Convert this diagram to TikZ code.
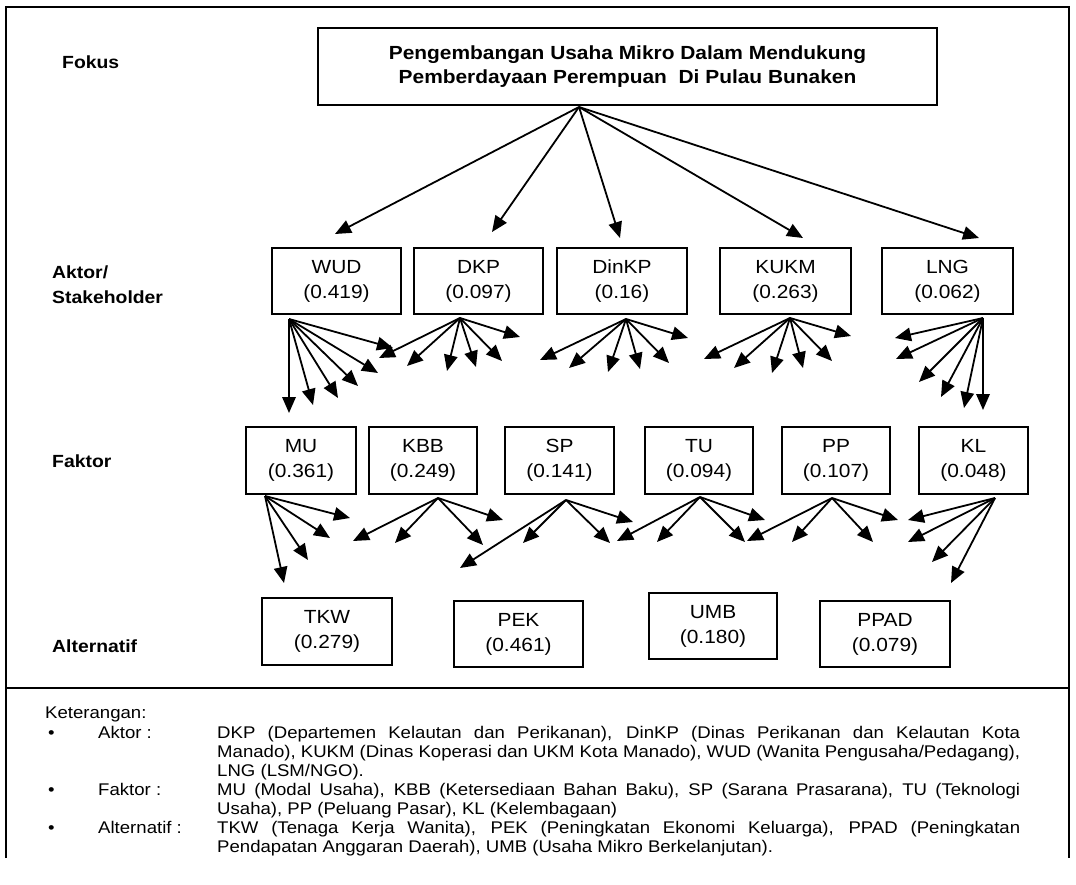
\documentclass[tikz,border=0pt]{standalone}
\usepackage{fontspec}
\setmainfont{Liberation Sans}[FakeStretch=1.1]
\usetikzlibrary{arrows.meta}
\newcommand\arrowfan[2]{%
  \foreach \x/\y [count=\i] in {#2} {%
    \coordinate (#1t\i) at (\x,\y);
    \draw[arr] (#1) -- (#1t\i);
  }}
\begin{document}
\begin{tikzpicture}[x=1pt,y=-1pt,
  arr/.style={line width=1.8pt,-{Triangle[length=16pt,width=13.5pt]}},
  box/.style={draw,line width=1.4pt,align=center,inner sep=0pt,
    font=\fontsize{19}{25}\selectfont},
  lev/.style={anchor=base west,inner sep=0pt,font=\fontsize{17.6}{20}\selectfont\bfseries},
  lg/.style={anchor=base west,inner sep=0pt,font=\fontsize{16.9}{19}\selectfont},
  frame/.style={line width=1.5pt}]
\useasboundingbox (0,0) rectangle (1076,885);

% frame
\draw[frame] (6,858) -- (6,7) -- (1069,7) -- (1069,858);
\draw[frame] (6,688) -- (1069,688);

% level labels
\node[lev] (lfokus) at (62,69) {Fokus};
\node[lev] (lakt1) at (52,279) {Aktor/};
\node[lev] (lakt2) at (52,303) {Stakeholder};
\node[lev] (lfak) at (52,467) {Faktor};
\node[lev] (lalt) at (52,652) {Alternatif};

% focus
\node[box,minimum width=619pt,minimum height=77pt,
  font=\fontsize{19}{24}\selectfont\bfseries] (F) at (627.5,66.4)
  {Pengembangan Usaha Mikro Dalam Mendukung\\Pemberdayaan Perempuan\ \ Di Pulau Bunaken};

% aktor
\node[box,minimum width=129pt,minimum height=66pt] (WUD) at (336.5,281) {WUD\\(0.419)};
\node[box,minimum width=129pt,minimum height=66pt] (DKP) at (478.5,281) {DKP\\(0.097)};
\node[box,minimum width=130pt,minimum height=66pt] (DinKP) at (622,281) {DinKP\\(0.16)};
\node[box,minimum width=131pt,minimum height=66pt] (KUKM) at (785.5,281) {KUKM\\(0.263)};
\node[box,minimum width=131pt,minimum height=66pt] (LNG) at (947.5,281) {LNG\\(0.062)};

% faktor
\node[box,minimum width=110pt,minimum height=67pt] (MU) at (301,460.5) {MU\\(0.361)};
\node[box,minimum width=108pt,minimum height=67pt] (KBB) at (423,460.5) {KBB\\(0.249)};
\node[box,minimum width=109pt,minimum height=67pt] (SP) at (559.5,460.5) {SP\\(0.141)};
\node[box,minimum width=108pt,minimum height=67pt] (TU) at (699,460.5) {TU\\(0.094)};
\node[box,minimum width=108pt,minimum height=67pt] (PP) at (836,460.5) {PP\\(0.107)};
\node[box,minimum width=109pt,minimum height=67pt] (KL) at (973.5,460.5) {KL\\(0.048)};

% alternatif
\node[box,minimum width=130pt,minimum height=67pt] (TKW) at (327,631.5) {TKW\\(0.279)};
\node[box,minimum width=129pt,minimum height=66pt] (PEK) at (518.5,634) {PEK\\(0.461)};
\node[box,minimum width=128pt,minimum height=66pt] (UMB) at (713,626) {UMB\\(0.180)};
\node[box,minimum width=130pt,minimum height=66pt] (PPAD) at (885,634) {PPAD\\(0.079)};

% arrow origins
\coordinate (fO) at (579,107);
\coordinate (wudO) at (289,319);
\coordinate (dkpO) at (460,318);
\coordinate (dinO) at (626,319);
\coordinate (kukmO) at (790,318);
\coordinate (lngO) at (983,318);
\coordinate (muO) at (265,496);
\coordinate (kbbO) at (438,498);
\coordinate (spO) at (566,500);
\coordinate (tuO) at (700,497);
\coordinate (ppO) at (832,498);
\coordinate (klO) at (995,498);

% arrows
\arrowfan{fO}{335/234, 492/232, 620/238, 803/238, 979/238}
\arrowfan{wudO}{289/413, 313/405, 338/398, 358/386, 378/373, 393/348}
\arrowfan{dkpO}{379/358, 407/366, 447/371, 476/367, 502/361, 520/337}
\arrowfan{dinO}{540/360, 569/368, 608/372, 640/369, 669/363, 688/338}
\arrowfan{kukmO}{704/359, 734/368, 772/373, 803/368, 832/361, 851/336}
\arrowfan{lngO}{895/338, 896/359, 919/382, 941/397, 964/408, 983/410}
\arrowfan{muO}{350/518, 330/538, 308/560, 284/583}
\arrowfan{kbbO}{353/541, 395/543, 483/545, 503/520}
\arrowfan{spO}{460/568, 523/543, 610/543, 633/522}
\arrowfan{tuO}{617/541, 657/542, 745/542, 765/520}
\arrowfan{ppO}{747/541, 792/542, 873/542, 898/520}
\arrowfan{klO}{908/520, 908/542, 932/562, 951/583}

% legend
\node[lg] (ket) at (45,718) {Keterangan:};
\node[lg] (b1) at (48,738) {•};
\node[lg] (b2) at (48,795) {•};
\node[lg] (b3) at (48,833) {•};
\node[lg] (k1) at (98,738) {Aktor :};
\node[lg] (k2) at (98,795) {Faktor :};
\node[lg] (k3) at (98,833) {Alternatif :};
\node[lg] (d1) at (217,738) {\makebox[803pt][s]{DKP (Departemen Kelautan dan Perikanan), DinKP (Dinas Perikanan dan Kelautan Kota}};
\node[lg] (d2) at (217,757) {\makebox[803pt][s]{Manado), KUKM (Dinas Koperasi dan UKM Kota Manado), WUD (Wanita Pengusaha/Pedagang),}};
\node[lg] (d3) at (217,776) {LNG (LSM/NGO).};
\node[lg] (d4) at (217,795) {\makebox[803pt][s]{MU (Modal Usaha), KBB (Ketersediaan Bahan Baku), SP (Sarana Prasarana), TU (Teknologi}};
\node[lg] (d5) at (217,814) {Usaha), PP (Peluang Pasar), KL (Kelembagaan)};
\node[lg] (d6) at (217,833) {\makebox[803pt][s]{TKW (Tenaga Kerja Wanita), PEK (Peningkatan Ekonomi Keluarga), PPAD (Peningkatan}};
\node[lg] (d7) at (217,852) {Pendapatan Anggaran Daerah), UMB (Usaha Mikro Berkelanjutan).};
\end{tikzpicture}
\end{document}
